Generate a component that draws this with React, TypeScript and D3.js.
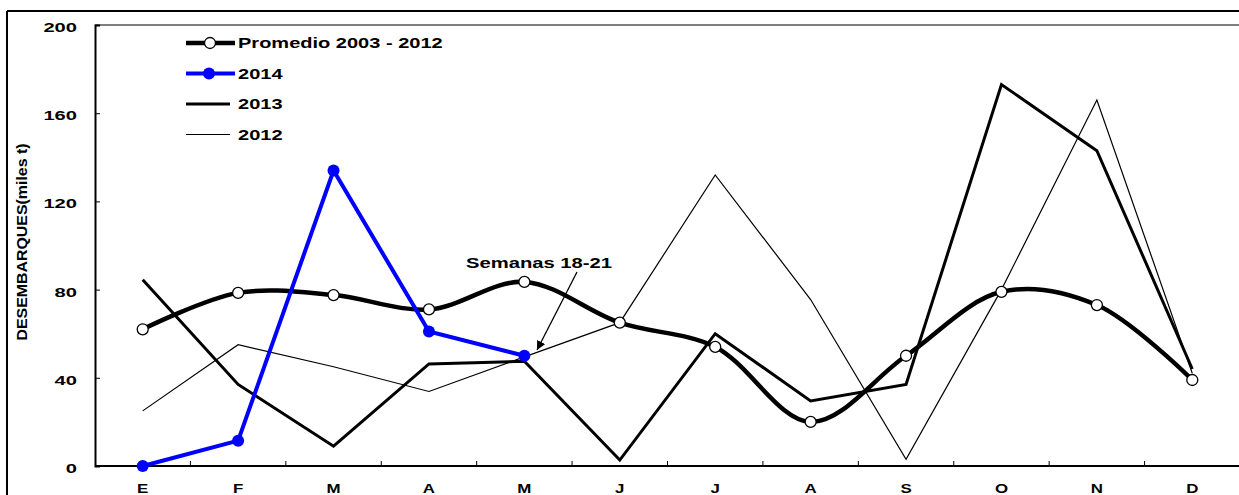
import React, { useEffect, useRef } from "react";
import * as d3 from "d3";

const months = ["E", "F", "M", "A", "M", "J", "J", "A", "S", "O", "N", "D"];
const promedio = [62, 78.5, 77.5, 71, 83.5, 65, 54, 20, 50, 79, 73, 39];
const y2014 = [0, 11.5, 134, 61, 50];
const y2013 = [84.5, 37, 9, 46.3, 47.5, 2.7, 60, 29.5, 37, 173, 143, 44];
const y2012 = [25, 55, 45, 33.8, 49.5, 65, 132, 75.5, 3, 80, 166, 42];
const yTicks = [0, 40, 80, 120, 160, 200];

const W = 1239;
const H = 495;
const M = { left: 95, top: 25, right: -1, bottom: 29 };
const FONT = "Arial, 'Liberation Sans', sans-serif";

export default function App() {
  const ref = useRef<SVGSVGElement>(null);

  useEffect(() => {
    const svg = d3.select(ref.current);
    svg.selectAll("*").remove();

    const x = d3
      .scaleBand()
      .domain(months.map((_, i) => String(i)))
      .range([M.left, W - M.right]);
    const cx = (i) => x(String(i)) + x.bandwidth() / 2;
    const y = d3.scaleLinear().domain([0, 200]).range([H - M.bottom, M.top]);

    // stretched bold text, like the original's wide glyphs
    const wide = (parent, tx, ty, str, size, sx, anchor) => {
      parent.append("g").attr("transform", `translate(${tx},${ty}) scale(${sx},1)`)
        .append("text").attr("text-anchor", anchor).attr("font-family", FONT)
        .attr("font-weight", "bold").attr("font-size", size).text(str);
    };

    // outer frame
    svg.append("line").attr("x1", 7).attr("x2", W).attr("y1", 11).attr("y2", 11)
      .attr("stroke", "#000").attr("stroke-width", 2);
    svg.append("line").attr("x1", 7).attr("x2", 7).attr("y1", 11).attr("y2", H)
      .attr("stroke", "#000").attr("stroke-width", 2);

    // plot frame top
    svg.append("line").attr("x1", M.left).attr("x2", W).attr("y1", y(200)).attr("y2", y(200))
      .attr("stroke", "#555").attr("stroke-width", 1.5);

    // y axis
    const ya = svg.append("g").attr("transform", `translate(${M.left},0)`)
      .call(d3.axisRight(y).tickValues(yTicks).tickSize(5).tickFormat(() => ""));
    ya.select(".domain").attr("stroke-width", 2);
    ya.selectAll("line").attr("stroke-width", 1);
    const yl = svg.append("g");
    yTicks.forEach((d) => wide(yl, 77, y(d) + 7, String(d), 13, 1.55, "end"));

    // x axis
    const xa = svg.append("g").attr("transform", `translate(0,${y(0)})`);
    xa.append("line").attr("x1", M.left).attr("x2", W).attr("stroke", "#000").attr("stroke-width", 2);
    xa.selectAll("line.tk").data(d3.range(1, 12)).join("line").attr("class", "tk")
      .attr("x1", (i) => x(String(i))).attr("x2", (i) => x(String(i)))
      .attr("y1", 0).attr("y2", -5).attr("stroke", "#000");
    months.forEach((m, i) => wide(xa, cx(i), 27, m, 13, 1.3, "middle"));

    // y label
    svg.append("text")
      .attr("transform", `translate(27,242) rotate(-90)`)
      .attr("text-anchor", "middle").attr("font-family", FONT).attr("font-weight", "bold")
      .attr("font-size", 14).attr("textLength", 197).attr("lengthAdjust", "spacingAndGlyphs")
      .text("DESEMBARQUES(miles t)");

    const line = d3.line().x((d, i) => cx(i)).y((d) => y(d));

    svg.append("path").datum(y2012).attr("d", line).attr("fill", "none")
      .attr("stroke", "#000").attr("stroke-width", 1.2);
    svg.append("path").datum(y2013).attr("d", line).attr("fill", "none")
      .attr("stroke", "#000").attr("stroke-width", 3);
    svg.append("path").datum(promedio).attr("d", line.curve(d3.curveCatmullRom.alpha(0.5)))
      .attr("fill", "none").attr("stroke", "#000").attr("stroke-width", 4.5);
    line.curve(d3.curveLinear);
    svg.append("g").selectAll("circle").data(promedio).join("circle")
      .attr("cx", (_, i) => cx(i)).attr("cy", (d) => y(d)).attr("r", 5.5)
      .attr("fill", "#fff").attr("stroke", "#000").attr("stroke-width", 1.3);

    svg.append("path").datum(y2014).attr("d", line).attr("fill", "none")
      .attr("stroke", "#0000ff").attr("stroke-width", 4);
    svg.append("g").selectAll("circle").data(y2014).join("circle")
      .attr("cx", (_, i) => cx(i)).attr("cy", (d) => y(d)).attr("r", 6)
      .attr("fill", "#0000ff");

    // legend
    const legend = [
      { label: "Promedio 2003 - 2012", color: "#000", w: 4.5, mark: "open" },
      { label: "2014", color: "#0000ff", w: 4, mark: "dot" },
      { label: "2013", color: "#000", w: 3, mark: "" },
      { label: "2012", color: "#000", w: 1.2, mark: "" },
    ];
    legend.forEach((l, i) => {
      const ly = 43 + i * 30.5;
      const g = svg.append("g");
      g.append("line").attr("x1", 186).attr("x2", l.mark ? 235 : 230).attr("y1", ly).attr("y2", ly)
        .attr("stroke", l.color).attr("stroke-width", l.w);
      if (l.mark === "open")
        g.append("circle").attr("cx", 210).attr("cy", ly).attr("r", 5.5)
          .attr("fill", "#fff").attr("stroke", "#000").attr("stroke-width", 1.3);
      if (l.mark === "dot")
        g.append("circle").attr("cx", 209).attr("cy", ly).attr("r", 6).attr("fill", "#0000ff");
      wide(g, 238, ly + 5, l.label, 14, 1.43, "start");
    });

    // annotation
    svg.append("defs").append("marker").attr("id", "arr").attr("viewBox", "0 0 10 10")
      .attr("refX", 10).attr("refY", 5).attr("markerWidth", 9).attr("markerHeight", 9)
      .attr("orient", "auto").attr("markerUnits", "userSpaceOnUse")
      .append("path").attr("d", "M0,0 L10,5 L0,10 Z").attr("fill", "#000");
    wide(svg, 539, 268, "Semanas 18-21", 15, 1.35, "middle");
    svg.append("line").attr("x1", 577).attr("y1", 272).attr("x2", 537).attr("y2", 350)
      .attr("stroke", "#000").attr("stroke-width", 1.3).attr("marker-end", "url(#arr)");
  }, []);

  return (
    <svg
      ref={ref}
      width={W}
      height={H}
      style={{ position: "absolute", left: 0, top: 0, background: "#fff" }}
    />
  );
}
